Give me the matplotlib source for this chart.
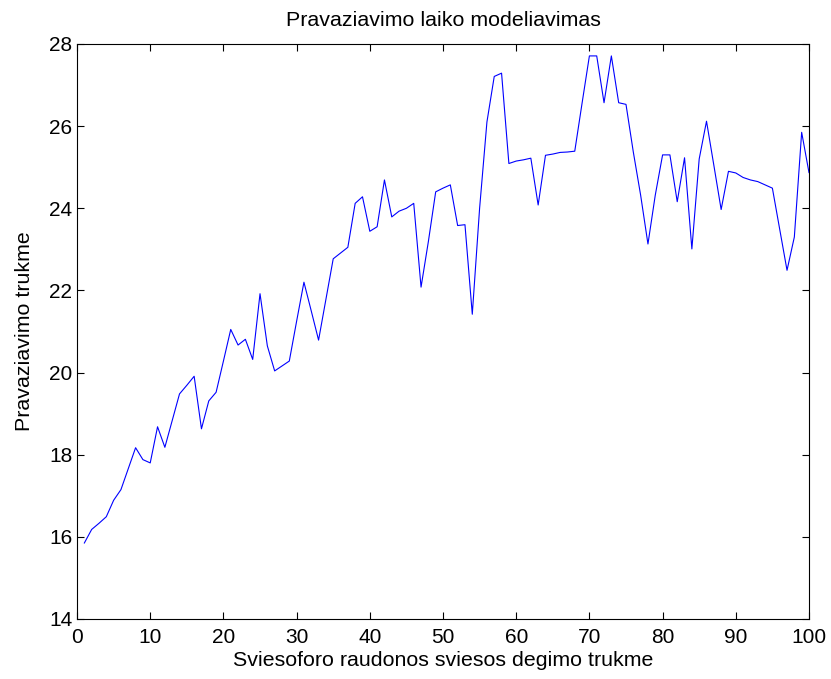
import numpy as np
import matplotlib
matplotlib.use('Agg')
import matplotlib.pyplot as plt

plt.rcParams['font.family'] = ['Liberation Sans', 'DejaVu Sans']

# raudonos sviesos trukme (1..100) ir vidutine pravaziavimo trukme
trukme = np.arange(1, 101)
pravaziavimas = [
    15.85, 16.18, 16.33, 16.49, 16.89, 17.15, 17.66, 18.17, 17.88, 17.80,
    18.68, 18.18, 18.83, 19.48, 19.69, 19.91, 18.63, 19.31, 19.52, 20.28,
    21.05, 20.67, 20.81, 20.32, 21.92, 20.65, 20.04, 20.16, 20.28, 21.25,
    22.20, 21.50, 20.79, 21.78, 22.77, 22.91, 23.05, 24.12, 24.28, 23.44,
    23.55, 24.69, 23.79, 23.93, 24.00, 24.12, 22.08, 23.19, 24.40, 24.49,
    24.57, 23.58, 23.60, 21.42, 24.00, 26.10, 27.21, 27.29, 25.09, 25.15,
    25.18, 25.22, 24.08, 25.29, 25.32, 25.36, 25.37, 25.39, 26.56, 27.71,
    27.71, 26.57, 27.71, 26.57, 26.53, 25.37, 24.32, 23.13, 24.32, 25.30,
    25.30, 24.16, 25.23, 23.01, 25.20, 26.12, 25.05, 23.97, 24.90, 24.86,
    24.75, 24.69, 24.65, 24.57, 24.49, 23.49, 22.49, 23.30, 25.85, 24.87,
]

x_ticks = np.arange(0, 101, 10)
y_ticks = np.arange(14, 29, 2)

fig = plt.figure(figsize=(8.31, 6.79), dpi=100)
ax = fig.add_axes([0.0927, 0.0884, 0.8808, 0.8468])

ax.plot(trukme, pravaziavimas, color='#0000ff', linewidth=0.8)

ax.set_xlim(0, 100)
ax.set_ylim(14, 28)
ax.set_xticks(x_ticks)
ax.set_yticks(y_ticks)
ax.tick_params(direction='in', top=True, right=True, length=5, width=0.8,
               labelsize=15)
ax.tick_params(axis='x', pad=6.5)
ax.tick_params(axis='y', pad=3.5)
for s in ax.spines.values():
    s.set_linewidth(0.8)

ax.set_title('Pravaziavimo laiko modeliavimas', fontsize=15.4, pad=13)
ax.set_xlabel('Sviesoforo raudonos sviesos degimo trukme', fontsize=15.4, labelpad=3)
ax.set_ylabel('Pravaziavimo trukme', fontsize=15.4, labelpad=10.5)

fig.savefig('out.png', dpi=100)
